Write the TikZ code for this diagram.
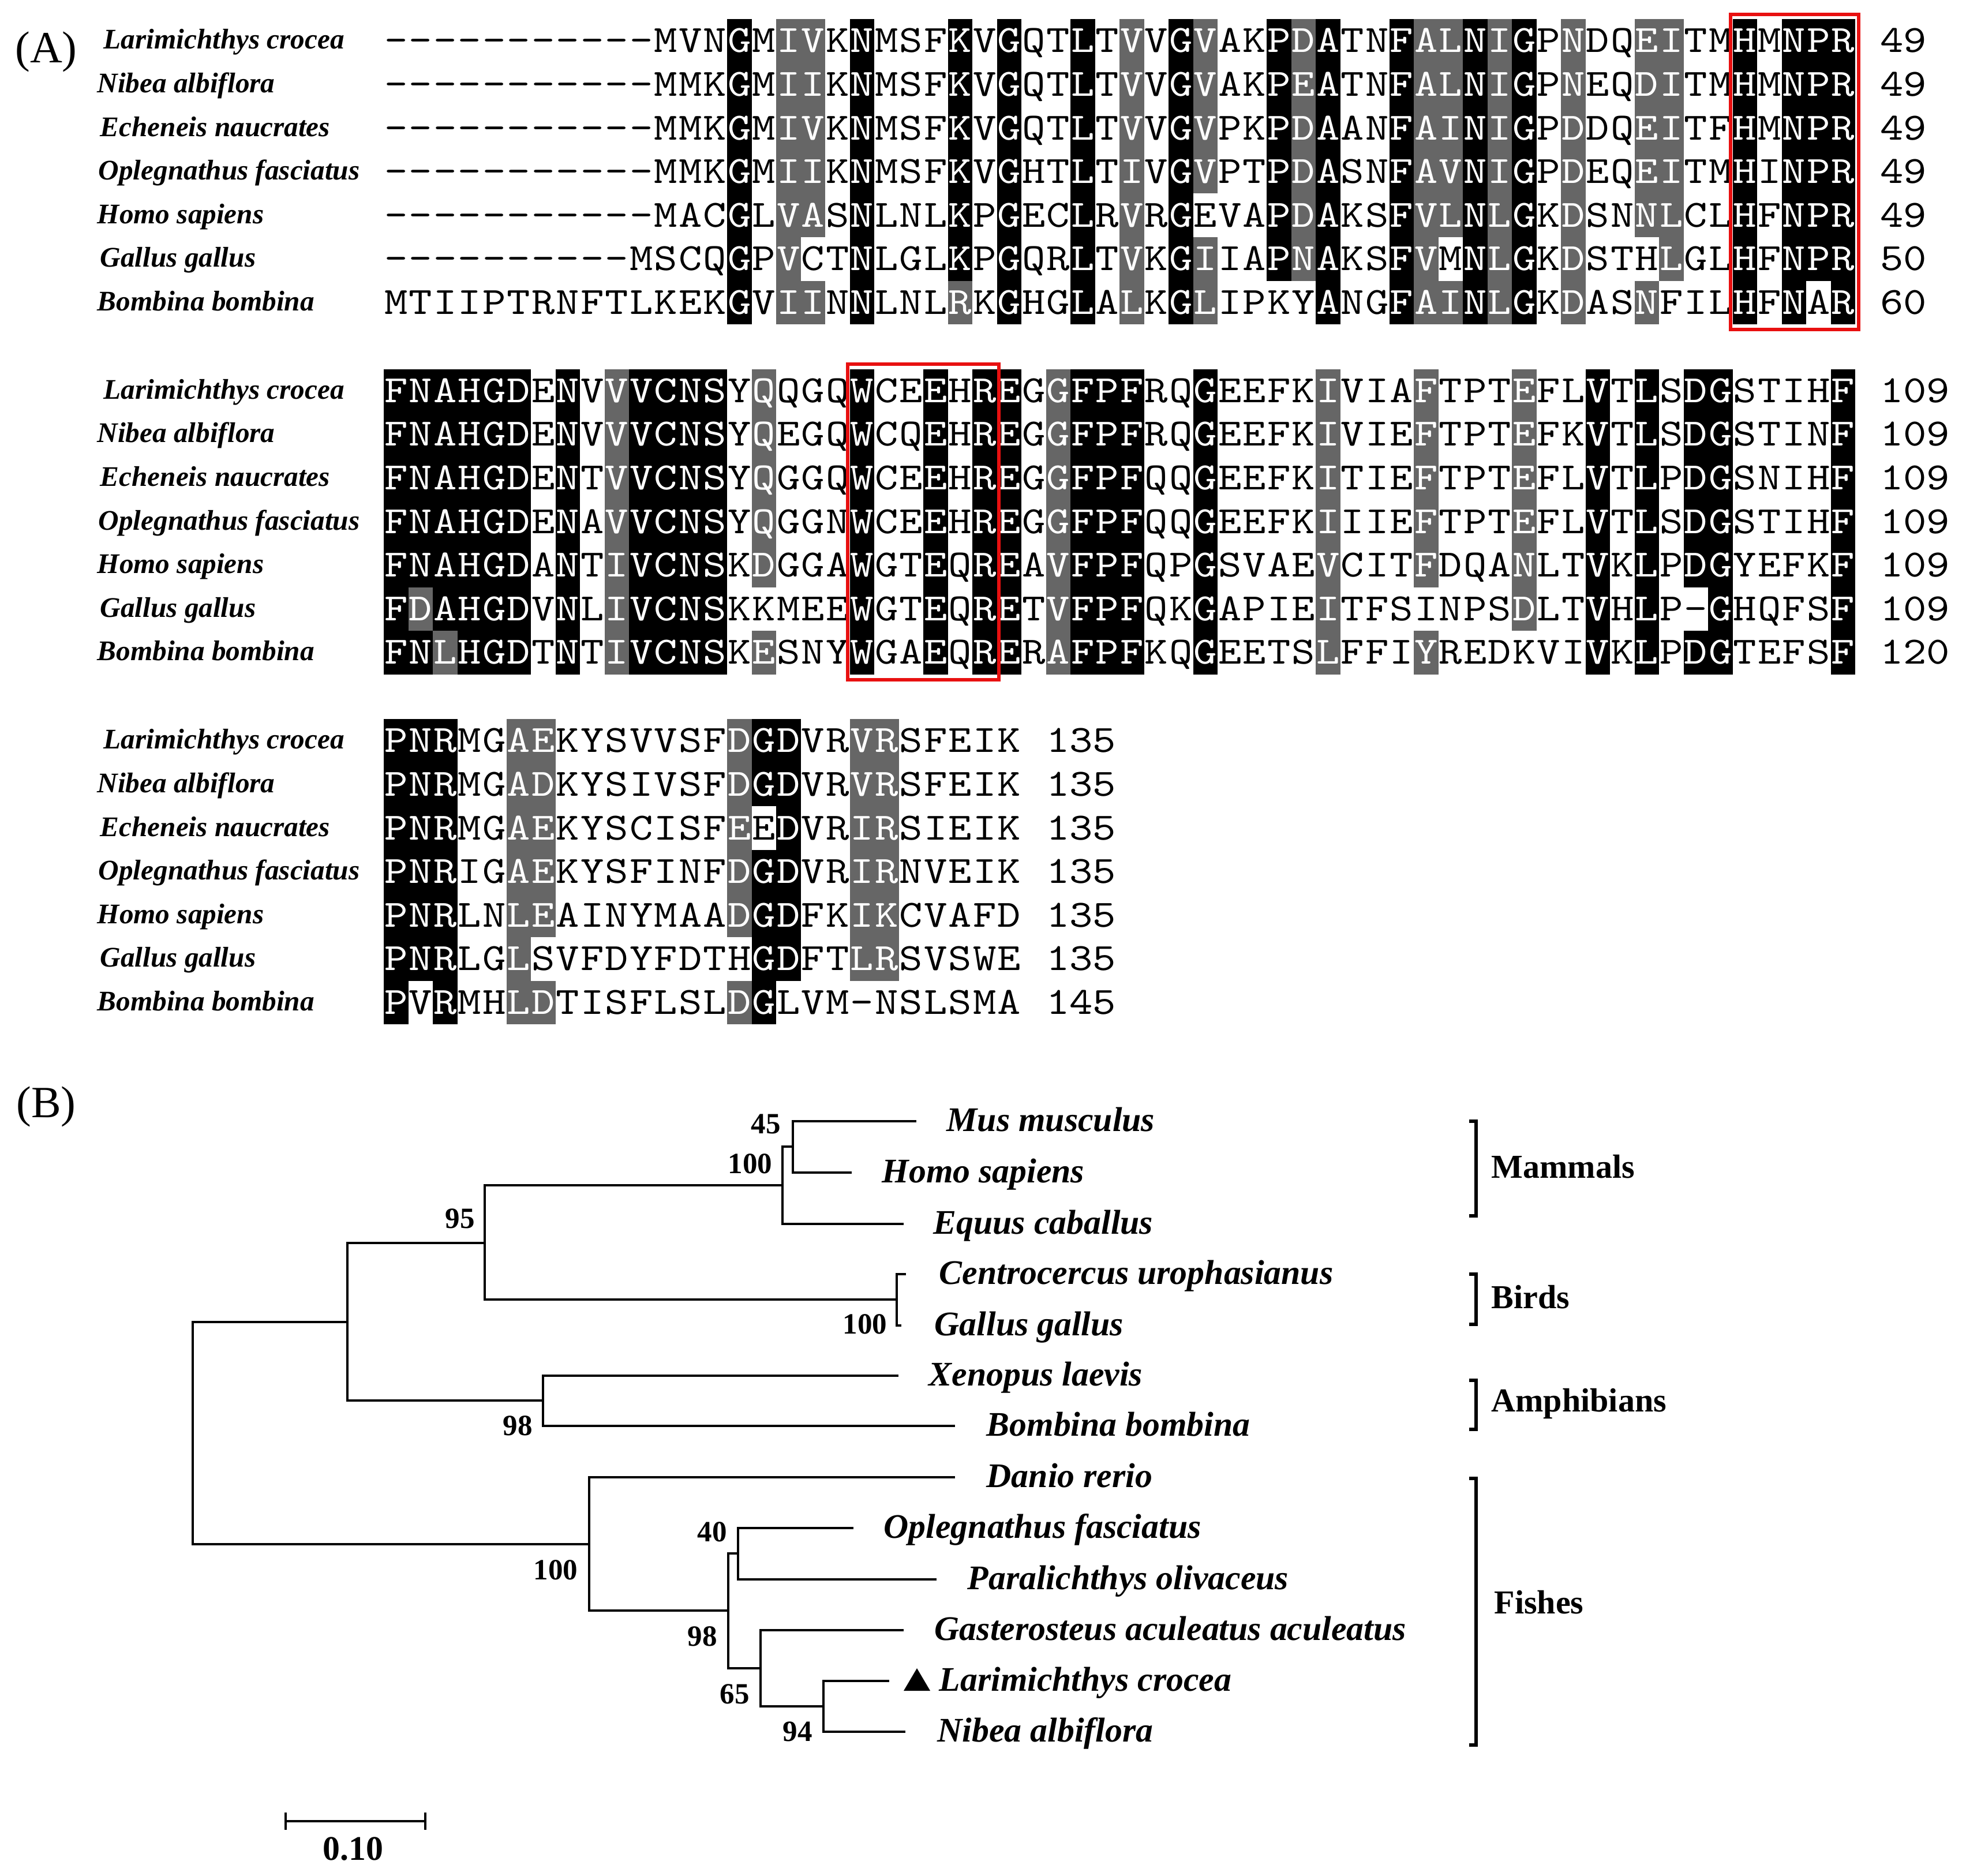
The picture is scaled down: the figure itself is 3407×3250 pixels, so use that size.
\documentclass[tikz,border=0pt]{standalone}
\usepackage{fontspec}
\setmainfont{Liberation Serif}
\newfontfamily\seqfont{lmmono10-regular.otf}[FakeStretch=1.15]
\usetikzlibrary{calc}
\definecolor{algray}{RGB}{102,102,102}
\definecolor{boxred}{RGB}{232,16,16}
\makeatletter
% #1 block, #2 column, #3 first row, #4 last row, #5 colour
\newcommand\alnshade[5]{%
  \foreach \rr in {#3,...,#4}{\expandafter\xdef\csname shB#1R\rr C#2\endcsname{#5}}%
  \fill[#5] ({665+(#2-1)*42.5},{33+(#1-1)*606.5+(#3-1)*75.6}) rectangle ({665+#2*42.5},{33+(#1-1)*606.5+#4*75.6});%
}
% #1 block, #2 row, #3 residues
\newcommand\alnrow[3]{%
  \def\alncol{0}%
  \@tfor\alnch:=#3\do{%
    \pgfmathtruncatemacro\alncol{\alncol+1}%
    \ifcsname shB#1R#2C\alncol\endcsname\def\alntc{white}\else\def\alntc{black}\fi
    \node[seqch,text=\alntc] (s#1r#2c\alncol) at ({665+(\alncol-0.5)*42.5},{33+(#1-1)*606.5+(#2-0.5)*75.6+20}) {\alnch};%
  }%
}
% #1 block, #2 row, #3 column, #4 number
\newcommand\alnnum[4]{%
  \node[seqch,anchor=base west] (n#1r#2) at ({665+(#3-1)*42.5},{33+(#1-1)*606.5+(#2-0.5)*75.6+20}) {#4};%
}
% #1 block, #2 row, #3 x, #4 name
\newcommand\alnname[4]{%
  \node[spA] (a#1r#2) at ({#3},{33+(#1-1)*606.5+(#2-0.5)*75.6+14}) {#4};%
}
\makeatother
\tikzset{
  seqch/.style={font=\seqfont\fontsize{19}{19}\selectfont, inner sep=0pt, anchor=base},
  spA/.style={font=\fontsize{14}{14}\selectfont\bfseries\itshape, inner sep=0pt, anchor=base west},
  panel/.style={font=\fontsize{22}{22}\selectfont, inner sep=0pt},
  leaf/.style={font=\fontsize{17}{17}\selectfont\bfseries\itshape, inner sep=0pt, anchor=base west},
  boot/.style={font=\fontsize{14.5}{14.5}\selectfont\bfseries, inner sep=0pt},
  grp/.style={font=\fontsize{16.5}{16.5}\selectfont\bfseries, inner sep=0pt, anchor=base west},
  branch/.style={line width=1.3pt},
  brk/.style={line width=1.8pt},
  redbox/.style={draw=boxred, line width=1.8pt},
}
\begin{document}
\begin{tikzpicture}[x=0.01cm,y=-0.01cm]
\useasboundingbox (0,0) rectangle (3407,3250);
\fill[white] (0,0) rectangle (3407,3250);

% ---------------- Panel A: shading ----------------
% block 1
\alnshade{1}{15}{1}{7}{black}
\alnshade{1}{17}{1}{7}{algray}
\alnshade{1}{18}{1}{5}{algray}\alnshade{1}{18}{7}{7}{algray}
\alnshade{1}{20}{1}{7}{black}
\alnshade{1}{24}{1}{6}{black}\alnshade{1}{24}{7}{7}{algray}
\alnshade{1}{26}{1}{7}{black}
\alnshade{1}{29}{1}{7}{black}
\alnshade{1}{31}{1}{7}{algray}
\alnshade{1}{33}{1}{7}{black}
\alnshade{1}{34}{1}{4}{algray}\alnshade{1}{34}{6}{7}{algray}
\alnshade{1}{37}{1}{6}{black}
\alnshade{1}{38}{1}{6}{algray}
\alnshade{1}{39}{1}{7}{black}
\alnshade{1}{42}{1}{7}{black}
\alnshade{1}{43}{1}{7}{algray}
\alnshade{1}{44}{1}{5}{algray}\alnshade{1}{44}{7}{7}{algray}
\alnshade{1}{45}{1}{7}{black}
\alnshade{1}{46}{1}{7}{algray}
\alnshade{1}{47}{1}{7}{black}
\alnshade{1}{49}{1}{7}{algray}
\alnshade{1}{52}{1}{5}{algray}\alnshade{1}{52}{7}{7}{algray}
\alnshade{1}{53}{1}{6}{algray}
\alnshade{1}{56}{1}{7}{black}
\alnshade{1}{58}{1}{7}{black}
\alnshade{1}{59}{1}{6}{black}
\alnshade{1}{60}{1}{7}{black}
% block 2
\alnshade{2}{1}{1}{7}{black}
\alnshade{2}{2}{1}{5}{black}\alnshade{2}{2}{6}{6}{algray}\alnshade{2}{2}{7}{7}{black}
\alnshade{2}{3}{1}{6}{black}\alnshade{2}{3}{7}{7}{algray}
\alnshade{2}{4}{1}{7}{black}
\alnshade{2}{5}{1}{7}{black}
\alnshade{2}{6}{1}{7}{black}
\alnshade{2}{8}{1}{7}{black}
\alnshade{2}{10}{1}{7}{algray}
\alnshade{2}{11}{1}{7}{black}
\alnshade{2}{12}{1}{7}{black}
\alnshade{2}{13}{1}{7}{black}
\alnshade{2}{14}{1}{7}{black}
\alnshade{2}{16}{1}{5}{algray}\alnshade{2}{16}{7}{7}{algray}
\alnshade{2}{20}{1}{7}{black}
\alnshade{2}{23}{1}{7}{black}
\alnshade{2}{25}{1}{7}{black}
\alnshade{2}{26}{1}{7}{black}
\alnshade{2}{28}{1}{7}{algray}
\alnshade{2}{29}{1}{7}{black}
\alnshade{2}{30}{1}{7}{black}
\alnshade{2}{31}{1}{7}{black}
\alnshade{2}{34}{1}{7}{black}
\alnshade{2}{39}{1}{7}{algray}
\alnshade{2}{43}{1}{5}{algray}\alnshade{2}{43}{7}{7}{algray}
\alnshade{2}{47}{1}{6}{algray}
\alnshade{2}{50}{1}{7}{black}
\alnshade{2}{52}{1}{7}{black}
\alnshade{2}{54}{1}{5}{black}\alnshade{2}{54}{7}{7}{black}
\alnshade{2}{55}{1}{7}{black}
\alnshade{2}{60}{1}{7}{black}
% block 3
\alnshade{3}{1}{1}{7}{black}
\alnshade{3}{2}{1}{6}{black}
\alnshade{3}{3}{1}{7}{black}
\alnshade{3}{6}{1}{7}{algray}
\alnshade{3}{7}{1}{5}{algray}\alnshade{3}{7}{7}{7}{algray}
\alnshade{3}{15}{1}{5}{algray}\alnshade{3}{15}{7}{7}{algray}
\alnshade{3}{16}{1}{2}{black}\alnshade{3}{16}{4}{7}{black}
\alnshade{3}{17}{1}{6}{black}
\alnshade{3}{20}{1}{6}{algray}
\alnshade{3}{21}{1}{6}{algray}

% ---------------- Panel A: residues ----------------
\alnrow{1}{1}{-----------MVNGMIVKNMSFKVGQTLTVVGVAKPDATNFALNIGPNDQEITMHMNPR}
\alnrow{1}{2}{-----------MMKGMIIKNMSFKVGQTLTVVGVAKPEATNFALNIGPNEQDITMHMNPR}
\alnrow{1}{3}{-----------MMKGMIVKNMSFKVGQTLTVVGVPKPDAANFAINIGPDDQEITFHMNPR}
\alnrow{1}{4}{-----------MMKGMIIKNMSFKVGHTLTIVGVPTPDASNFAVNIGPDEQEITMHINPR}
\alnrow{1}{5}{-----------MACGLVASNLNLKPGECLRVRGEVAPDAKSFVLNLGKDSNNLCLHFNPR}
\alnrow{1}{6}{----------MSCQGPVCTNLGLKPGQRLTVKGIIAPNAKSFVMNLGKDSTHLGLHFNPR}
\alnrow{1}{7}{MTIIPTRNFTLKEKGVIINNLNLRKGHGLALKGLIPKYANGFAINLGKDASNFILHFNAR}
\alnrow{2}{1}{FNAHGDENVVVCNSYQQGQWCEEHREGGFPFRQGEEFKIVIAFTPTEFLVTLSDGSTIHF}
\alnrow{2}{2}{FNAHGDENVVVCNSYQEGQWCQEHREGGFPFRQGEEFKIVIEFTPTEFKVTLSDGSTINF}
\alnrow{2}{3}{FNAHGDENTVVCNSYQGGQWCEEHREGGFPFQQGEEFKITIEFTPTEFLVTLPDGSNIHF}
\alnrow{2}{4}{FNAHGDENAVVCNSYQGGNWCEEHREGGFPFQQGEEFKIIIEFTPTEFLVTLSDGSTIHF}
\alnrow{2}{5}{FNAHGDANTIVCNSKDGGAWGTEQREAVFPFQPGSVAEVCITFDQANLTVKLPDGYEFKF}
\alnrow{2}{6}{FDAHGDVNLIVCNSKKMEEWGTEQRETVFPFQKGAPIEITFSINPSDLTVHLP-GHQFSF}
\alnrow{2}{7}{FNLHGDTNTIVCNSKESNYWGAEQRERAFPFKQGEETSLFFIYREDKVIVKLPDGTEFSF}
\alnrow{3}{1}{PNRMGAEKYSVVSFDGDVRVRSFEIK}
\alnrow{3}{2}{PNRMGADKYSIVSFDGDVRVRSFEIK}
\alnrow{3}{3}{PNRMGAEKYSCISFEEDVRIRSIEIK}
\alnrow{3}{4}{PNRIGAEKYSFINFDGDVRIRNVEIK}
\alnrow{3}{5}{PNRLNLEAINYMAADGDFKIKCVAFD}
\alnrow{3}{6}{PNRLGLSVFDYFDTHGDFTLRSVSWE}
\alnrow{3}{7}{PVRMHLDTISFLSLDGLVM-NSLSMA}

% numbers
\alnnum{1}{1}{62}{49}\alnnum{1}{2}{62}{49}\alnnum{1}{3}{62}{49}\alnnum{1}{4}{62}{49}
\alnnum{1}{5}{62}{49}\alnnum{1}{6}{62}{50}\alnnum{1}{7}{62}{60}
\alnnum{2}{1}{62}{109}\alnnum{2}{2}{62}{109}\alnnum{2}{3}{62}{109}\alnnum{2}{4}{62}{109}
\alnnum{2}{5}{62}{109}\alnnum{2}{6}{62}{109}\alnnum{2}{7}{62}{120}
\alnnum{3}{1}{28}{135}\alnnum{3}{2}{28}{135}\alnnum{3}{3}{28}{135}\alnnum{3}{4}{28}{135}
\alnnum{3}{5}{28}{135}\alnnum{3}{6}{28}{135}\alnnum{3}{7}{28}{145}

% species names
\foreach \bb in {1,2,3}{
  \alnname{\bb}{1}{179}{Larimichthys crocea}
  \alnname{\bb}{2}{168}{Nibea albiflora}
  \alnname{\bb}{3}{173}{Echeneis naucrates}
  \alnname{\bb}{4}{170}{Oplegnathus fasciatus}
  \alnname{\bb}{5}{168}{Homo sapiens}
  \alnname{\bb}{6}{173}{Gallus gallus}
  \alnname{\bb}{7}{168}{Bombina bombina}
}

% red boxes
\draw[redbox] (2999,25) rectangle (3221,571);
\draw[redbox] (1469,631) rectangle (1731,1178);

\node[panel] (pA) at (80,90) {(A)};
\node[panel] (pB) at (80,1918) {(B)};

% ---------------- Panel B: tree ----------------
\coordinate (root) at (334,2484);
\coordinate (nA) at (602,2291);
\coordinate (nB) at (840,2154);
\coordinate (nM) at (1356,2054);
\coordinate (nMH) at (1374,1987);
\coordinate (nBd) at (1554,2252);
\coordinate (nC) at (941,2427);
\coordinate (nD) at (1021,2676);
\coordinate (nE) at (1262,2791);
\coordinate (nF) at (1279,2692);
\coordinate (nG) at (1318,2891);
\coordinate (nH) at (1427,2957);

\coordinate (lMus) at (1588,1943);
\coordinate (lHomo) at (1476,2032);
\coordinate (lEqu) at (1566,2121);
\coordinate (lCen) at (1570,2208);
\coordinate (lGal) at (1562,2297);
\coordinate (lXen) at (1557,2384);
\coordinate (lBom) at (1655,2471);
\coordinate (lDan) at (1655,2560);
\coordinate (lOpl) at (1479,2648);
\coordinate (lPar) at (1623,2737);
\coordinate (lGas) at (1566,2825);
\coordinate (lLar) at (1541,2913);
\coordinate (lNib) at (1569,3001);

\draw[branch] (root) |- (nA);
\draw[branch] (root) |- (nD);
\draw[branch] (nA) |- (nB);
\draw[branch] (nA) |- (nC);
\draw[branch] (nB) |- (nM);
\draw[branch] (nB) |- (nBd);
\draw[branch] (nM) |- (nMH);
\draw[branch] (nM) |- (lEqu);
\draw[branch] (nMH) |- (lMus);
\draw[branch] (nMH) |- (lHomo);
\draw[branch] (nBd) |- (lCen);
\draw[branch] (nBd) |- (lGal);
\draw[branch] (nC) |- (lXen);
\draw[branch] (nC) |- (lBom);
\draw[branch] (nD) |- (lDan);
\draw[branch] (nD) |- (nE);
\draw[branch] (nE) |- (nF);
\draw[branch] (nE) |- (nG);
\draw[branch] (nF) |- (lOpl);
\draw[branch] (nF) |- (lPar);
\draw[branch] (nG) |- (lGas);
\draw[branch] (nG) |- (nH);
\draw[branch] (nH) |- (lLar);
\draw[branch] (nH) |- (lNib);

% leaf labels
\node[leaf] (tMus) at (1640,1960) {Mus musculus};
\node[leaf] (tHomo) at (1528,2049) {Homo sapiens};
\node[leaf] (tEqu) at (1617,2138) {Equus caballus};
\node[leaf] (tCen) at (1627,2225) {Centrocercus urophasianus};
\node[leaf] (tGal) at (1619,2314) {Gallus gallus};
\node[leaf] (tXen) at (1609,2401) {Xenopus laevis};
\node[leaf] (tBom) at (1709,2488) {Bombina bombina};
\node[leaf] (tDan) at (1709,2577) {Danio rerio};
\node[leaf] (tOpl) at (1531,2665) {Oplegnathus fasciatus};
\node[leaf] (tPar) at (1676,2754) {Paralichthys olivaceus};
\node[leaf] (tGas) at (1619,2842) {Gasterosteus aculeatus aculeatus};
\node[leaf] (tLar) at (1627,2930) {Larimichthys crocea};
\node[leaf] (tNib) at (1624,3018) {Nibea albiflora};
\fill (1566,2930) -- (1612,2930) -- (1589,2891) -- cycle;

% bootstrap values
\node[boot] (b45) at (1327,1948) {45};
\node[boot] (b100m) at (1300,2017) {100};
\node[boot] (b95) at (797,2112) {95};
\node[boot] (b100b) at (1499,2295) {100};
\node[boot] (b98a) at (897,2471) {98};
\node[boot] (b100f) at (963,2721) {100};
\node[boot] (b40) at (1234,2655) {40};
\node[boot] (b98f) at (1217,2836) {98};
\node[boot] (b65) at (1273,2936) {65};
\node[boot] (b94) at (1382,3001) {94};

% group brackets
\draw[brk] (2546,1943) -- (2558,1943) -- (2558,2107) -- (2546,2107);
\draw[brk] (2546,2208) -- (2558,2208) -- (2558,2295) -- (2546,2295);
\draw[brk] (2546,2392) -- (2558,2392) -- (2558,2477) -- (2546,2477);
\draw[brk] (2546,2562) -- (2558,2562) -- (2558,3024) -- (2546,3024);
\node[grp] (gMam) at (2584,2041) {Mammals};
\node[grp] (gBir) at (2584,2267) {Birds};
\node[grp] (gAmp) at (2584,2446) {Amphibians};
\node[grp] (gFis) at (2589,2796) {Fishes};

% scale bar
\coordinate (sbL) at (495,3156);
\coordinate (sbR) at (737,3156);
\draw[branch] (sbL) -- (sbR);
\draw[line width=1pt] (495,3141) -- (495,3171);
\draw[line width=1pt] (737,3141) -- (737,3171);
\node[font=\fontsize{17}{17}\selectfont\bfseries, inner sep=0pt] (sblbl) at (612,3204) {0.10};
\end{tikzpicture}
\end{document}
